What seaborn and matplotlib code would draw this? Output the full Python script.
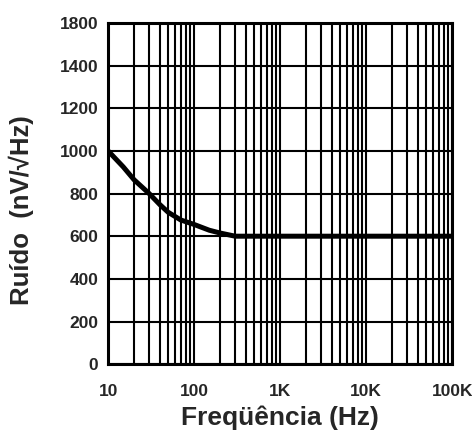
import matplotlib
matplotlib.use("Agg")
import matplotlib.pyplot as plt
import matplotlib.ticker as mticker
import numpy as np
import pandas as pd
import seaborn as sns

# DATA
freq_hz = [10, 15, 20, 30, 40, 50, 70, 100, 150, 200, 300, 500, 1000, 10000, 100000]
noise_nv = [1000, 925, 865, 800, 748, 712, 676, 655, 628, 615, 600, 600, 600, 600, 600]

ytick_pos = [0, 200, 400, 600, 800, 1000, 1200, 1400, 1600]
ytick_labels = ["0", "200", "400", "600", "800", "1000", "1200", "1400", "1800"]
xtick_pos = [10, 100, 1000, 10000, 100000]
xtick_labels = ["10", "100", "1K", "10K", "100K"]

df = pd.DataFrame({"freq": freq_hz, "noise": noise_nv})

# STYLE
sns.set_style("white")
plt.rcParams["font.family"] = ["Liberation Sans", "DejaVu Sans"]
plt.rcParams["font.weight"] = "bold"

fig = plt.figure(figsize=(4.72, 4.32), dpi=100)
ax = fig.add_axes([0.229, 0.157, 0.729, 0.79])

sns.lineplot(data=df, x="freq", y="noise", color="black", linewidth=3.6, ax=ax)

ax.set_xscale("log")
ax.set_xlim(10, 100000)
ax.set_ylim(0, 1600)

ax.set_xticks(xtick_pos)
ax.set_xticklabels(xtick_labels)
ax.xaxis.set_minor_locator(mticker.LogLocator(base=10, subs=np.arange(2, 10)))
ax.xaxis.set_minor_formatter(mticker.NullFormatter())
ax.set_yticks(ytick_pos)
ax.set_yticklabels(ytick_labels)

ax.grid(True, which="both", axis="x", color="black", linewidth=1.5)
ax.grid(True, which="major", axis="y", color="black", linewidth=1.5)
ax.tick_params(which="both", length=0, labelsize=12.5, pad=7)
ax.tick_params(axis="x", pad=14)

for s in ax.spines.values():
    s.set_color("black")
    s.set_linewidth(2.2)

ax.set_xlabel("Freqüência (Hz)", fontsize=19, fontweight="bold", labelpad=5)
ax.set_ylabel("Ruído  (nV/√Hz)", fontsize=18.5, fontweight="bold")
ax.yaxis.set_label_coords(-0.215, 0.45)

fig.savefig("out.png", dpi=100)
